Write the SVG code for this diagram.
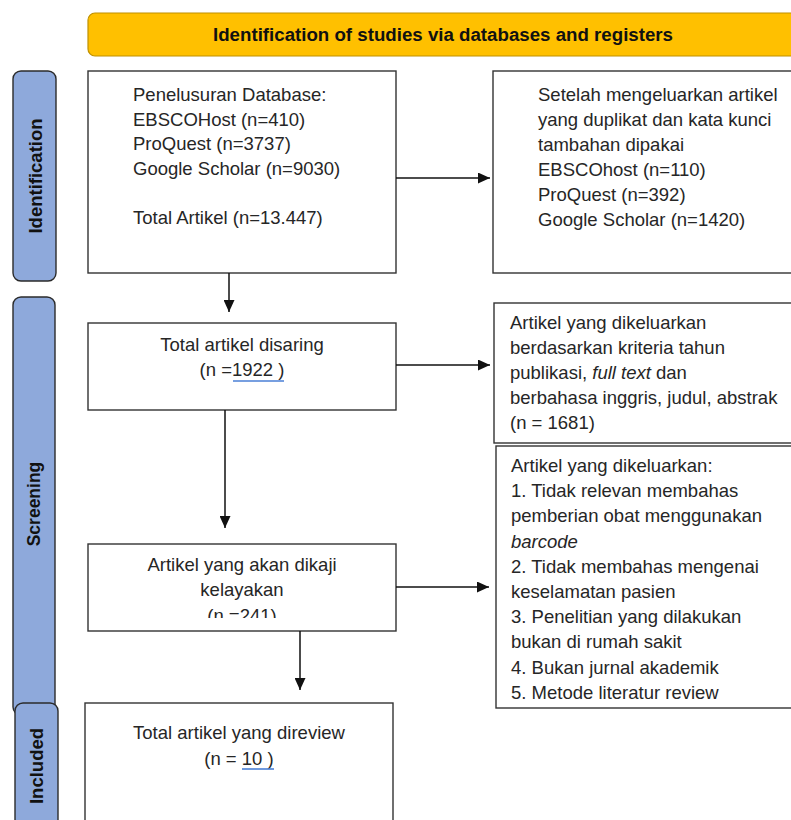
<svg xmlns="http://www.w3.org/2000/svg" width="791" height="820" viewBox="0 0 791 820">
<style>
.box{fill:#fff;stroke:#333;stroke-width:1.4}
.side{fill:#8EA9DB;stroke:#2b2b2b;stroke-width:1.4}
.t{font-family:"Liberation Sans",Arial,sans-serif;font-size:18.5px;fill:#262626}
.c{text-anchor:middle}
.lab{font-family:"Liberation Sans",Arial,sans-serif;font-weight:bold;fill:#111;text-anchor:middle}
.conn line{stroke:#111;stroke-width:1.5;marker-end:url(#ah)}
.ul{stroke:#4a7fd6;stroke-width:1.6}
</style>
<defs>
<marker id="ah" markerUnits="userSpaceOnUse" markerWidth="12" markerHeight="11" refX="12" refY="5.5" orient="auto">
<path d="M0,0 L12,5.5 L0,11 z" fill="#111"/>
</marker>
<clipPath id="clip6"><rect x="88" y="545" width="308" height="73"/></clipPath>
</defs>
<rect width="791" height="820" fill="#fff"/>

<g id="header">
<rect x="88" y="13" width="760" height="43" rx="7" fill="#FFC000" stroke="#BF9000" stroke-width="1.2"/>
<text x="443" y="41" font-family="'Liberation Sans',Arial,sans-serif" font-weight="bold" font-size="18" fill="#111" text-anchor="middle" textLength="460" lengthAdjust="spacingAndGlyphs">Identification of studies via databases and registers</text>
</g>

<g id="side-identification">
<rect class="side" x="13" y="71" width="43" height="210" rx="8"/>
<text class="lab" font-size="18.5" transform="translate(42,176) rotate(-90)">Identification</text>
</g>
<g id="side-screening">
<rect class="side" x="13" y="297" width="42" height="418" rx="8"/>
<text class="lab" font-size="17.5" transform="translate(40,504) rotate(-90)">Screening</text>
</g>
<g id="side-included">
<rect class="side" x="15" y="703" width="43" height="130" rx="8"/>
<text class="lab" font-size="18.5" transform="translate(43,766) rotate(-90)">Included</text>
</g>

<g id="box-database">
<rect class="box" x="88" y="71" width="308" height="202"/>
<text class="t" x="133" y="101">Penelusuran Database:</text>
<text class="t" x="133" y="125.6">EBSCOHost (n=410)</text>
<text class="t" x="133" y="150.2">ProQuest (n=3737)</text>
<text class="t" x="133" y="174.8">Google Scholar (n=9030)</text>
<text class="t" x="133" y="224">Total Artikel (n=13.447)</text>
</g>

<g id="box-duplikat">
<rect class="box" x="493" y="71" width="320" height="202"/>
<text class="t" x="538" y="101">Setelah mengeluarkan artikel</text>
<text class="t" x="538" y="126">yang duplikat dan kata kunci</text>
<text class="t" x="538" y="151">tambahan dipakai</text>
<text class="t" x="538" y="176">EBSCOhost (n=110)</text>
<text class="t" x="538" y="201">ProQuest (n=392)</text>
<text class="t" x="538" y="226">Google Scholar (n=1420)</text>
</g>

<g id="box-disaring">
<rect class="box" x="88" y="323" width="308" height="87"/>
<text class="t c" x="242" y="351">Total artikel disaring</text>
<text class="t c" x="242" y="376">(n =1922 )</text>
<line class="ul" x1="233" y1="381" x2="284" y2="381"/>
</g>

<g id="box-kriteria">
<rect class="box" x="494" y="303" width="320" height="140"/>
<text class="t" x="510" y="329">Artikel yang dikeluarkan</text>
<text class="t" x="510" y="354">berdasarkan kriteria tahun</text>
<text class="t" x="510" y="379">publikasi, <tspan font-style="italic">full text</tspan> dan</text>
<text class="t" x="510" y="404">berbahasa inggris, judul, abstrak</text>
<text class="t" x="510" y="429">(n = 1681)</text>
</g>

<g id="box-dikeluarkan">
<rect class="box" x="496" y="446" width="320" height="262"/>
<text class="t" x="511" y="472">Artikel yang dikeluarkan:</text>
<text class="t" x="511" y="497.2">1. Tidak relevan membahas</text>
<text class="t" x="511" y="522.4">pemberian obat menggunakan</text>
<text class="t" x="511" y="547.6" font-style="italic">barcode</text>
<text class="t" x="511" y="572.8">2. Tidak membahas mengenai</text>
<text class="t" x="511" y="598">keselamatan pasien</text>
<text class="t" x="511" y="623.2">3. Penelitian yang dilakukan</text>
<text class="t" x="511" y="648.4">bukan di rumah sakit</text>
<text class="t" x="511" y="673.6">4. Bukan jurnal akademik</text>
<text class="t" x="511" y="698.8">5. Metode literatur review</text>
</g>

<g id="box-kelayakan">
<rect class="box" x="88" y="544" width="308" height="87"/>
<text class="t c" x="242" y="571">Artikel yang akan dikaji</text>
<text class="t c" x="242" y="596">kelayakan</text>
<text class="t c" x="242" y="622" clip-path="url(#clip6)">(n =241)</text>
</g>

<g id="box-direview">
<rect class="box" x="85" y="703" width="308" height="130"/>
<text class="t c" x="239" y="739">Total artikel yang direview</text>
<text class="t c" x="239" y="765">(n = 10 )</text>
<line class="ul" x1="242" y1="769" x2="274" y2="769"/>
</g>

<g id="connectors" class="conn">
<line x1="396" y1="178" x2="490" y2="178"/>
<line x1="229" y1="273" x2="229" y2="312"/>
<line x1="396" y1="365" x2="490" y2="365"/>
<line x1="225" y1="410" x2="225" y2="528"/>
<line x1="396" y1="587" x2="489" y2="587"/>
<line x1="300" y1="631" x2="300" y2="690"/>
</g>
</svg>
